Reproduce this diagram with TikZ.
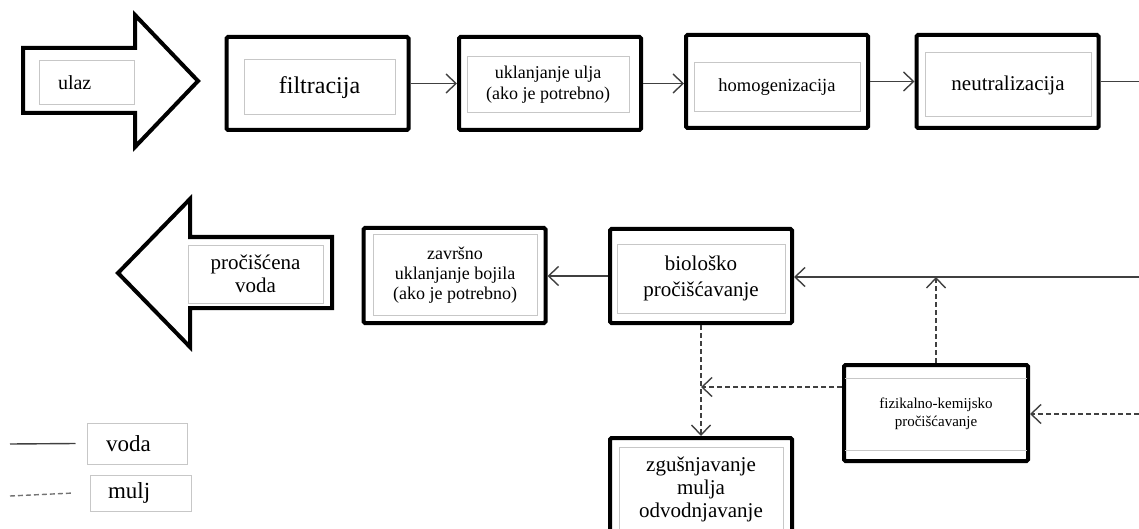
\documentclass[tikz,border=0pt]{standalone}
\usepackage{fontspec}
\setmainfont{Liberation Serif}
\usetikzlibrary{arrows.meta}
\usetikzlibrary{calc,positioning}
\tikzset{>={Straight Barb[length=10pt,width=19pt]}}

\begin{document}
\begin{tikzpicture}[x=1pt,y=-1pt,
    outerbox/.style={draw,line width=4pt,rounded corners=1.5pt,minimum width=182pt,minimum height=93pt,inner sep=0pt},
    innerbox/.style={draw=black!22,line width=1pt,align=center,inner sep=0pt,font=\fontsize{20}{23}\selectfont},
    tagbox/.style={innerbox,align=left,inner xsep=19pt},
    water/.style={draw=black!75,line width=1.4pt,->},
    sludge/.style={water,dash pattern=on 5pt off 3pt}]
    \clip (0,0) rectangle (1139,529);
    \def\fs#1#2{\fontsize{#1}{#2}\selectfont}
    % ulaz
    \draw[line width=4pt,line join=miter] (23,48) -- (135,48) -- (135,15) -- (198,81) -- (135,147) -- (135,113) -- (23,113) -- cycle;
    \node[tagbox,minimum width=95pt,minimum height=44pt,text width=57pt] (ulaz) at (86.5,83) {ulaz};
    % top row
    \node[outerbox] (filt) at (317.5,83.5) {};
    \node[innerbox,minimum width=151pt,minimum height=55pt,font=\fs{24}{27}] (filt-in) at (319.5,87.5) {filtracija};
    \node[outerbox] (ukl) at (550,83.5) {};
    \node[innerbox,minimum width=162pt,minimum height=56pt,font=\fs{18}{21}] (ukl-in) at (548,85) {uklanjanje ulja\\(ako je potrebno)};
    \node[outerbox] (homog) at (777,81.5) {};
    \node[innerbox,minimum width=166pt,minimum height=49pt,font=\fs{18.5}{21}] (homog-in) at (777,87.5) {homogenizacija};
    \node[outerbox] (neutr) at (1007.5,81.5) {};
    \node[innerbox,minimum width=166pt,minimum height=64pt,font=\fs{21}{24}] (neutr-in) at (1008,85) {neutralizacija};
    \coordinate (wout) at (1139,83);
    \draw[water] (filt.east) -- (ukl.west);
    \draw[water] (ukl.east) -- (ukl.east -| homog.west);
    \draw[water] (homog.east) -- (neutr.west);
    \draw[water,-] (neutr.east) -- (neutr.east -| wout);
    % bottom row
    \draw[line width=4pt,line join=miter] (332,237) -- (190,237) -- (190,199) -- (118,273) -- (190,347) -- (190,308) -- (332,308) -- cycle;
    \node[innerbox,minimum width=135pt,minimum height=58pt,font=\fs{21}{23}] (voda-out) at (255.5,274) {pročišćena\\voda};
    \node[outerbox,minimum height=95pt] (zavr) at (454.5,275.5) {};
    \node[innerbox,minimum width=164pt,minimum height=80pt,font=\fs{18}{20}] (zavr-in) at (455,275) {završno\\uklanjanje bojila\\(ako je potrebno)};
    \node[outerbox,minimum height=94pt] (biol) at (701,276) {};
    \node[innerbox,minimum width=168pt,minimum height=69pt,font=\fs{21}{26}] (biol-in) at (701,278.5) {biološko\\pročišćavanje};
    \node[outerbox,minimum height=102pt] (zgus) at (701,489) {};
    \node[innerbox,minimum width=164pt,minimum height=84pt,font=\fs{21}{23}] (zgus-in) at (701,489) {zgušnjavanje\\mulja\\odvodnjavanje};
    \node[outerbox,minimum width=184pt,minimum height=96pt] (fiz) at (936,413) {};
    \node[align=center,inner sep=0pt,font=\fs{15}{18}] (fiz-in) at (936,414) {fizikalno-kemijsko\\pročišćavanje};
    \draw[draw=black!22,line width=1pt,shorten <=3pt,shorten >=3pt] ([yshift=-15pt]fiz.north west) -- ([yshift=-15pt]fiz.north east);
    \draw[draw=black!22,line width=1pt,shorten <=3pt,shorten >=3pt] ([yshift=13pt]fiz.south west) -- ([yshift=13pt]fiz.south east);
    \coordinate (win) at (1139,277);
    \coordinate (fin) at (1139,414);
    \coordinate (fl) at ([yshift=26pt]fiz.west);
    \draw[water] (win) -- (win -| biol.east);
    \draw[water] (biol.west) -- (biol.west -| zavr.east);
    \draw[sludge] (biol.south) -- (zgus.north);
    \draw[sludge] (fl) -- (fl -| biol.south);
    \draw[sludge] (fiz.north) -- (fiz.north |- win);
    \draw[sludge] (fin) -- (fin -| fiz.east);
    % legend
    \node[tagbox,minimum width=100pt,minimum height=41pt,text width=62pt,font=\fs{23}{25}] (voda) at (137,443.5) {voda};
    \node[tagbox,minimum width=101pt,minimum height=36pt,text width=65pt,inner xsep=18pt,font=\fs{23}{25}] (mulj) at (140.5,493) {mulj};
    \draw[water,-] (10,444) -- ([xshift=-11pt]voda.west);
    \draw[sludge,-,draw=black!55] (10,496) -- ([xshift=-16pt]mulj.west);
\end{tikzpicture}
\end{document}
